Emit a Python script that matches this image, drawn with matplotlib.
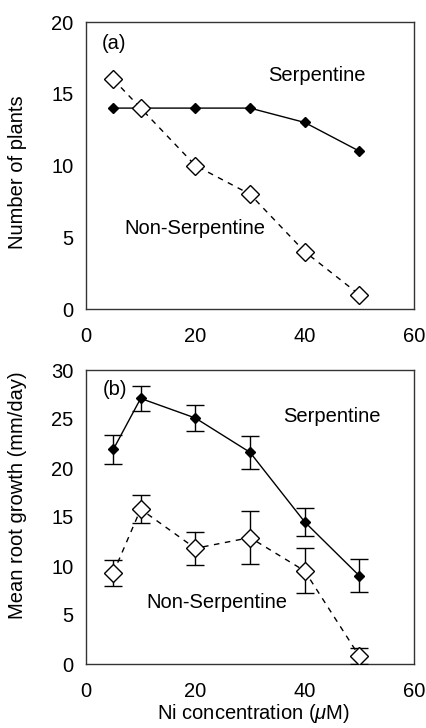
import matplotlib
matplotlib.use("Agg")
import matplotlib.pyplot as plt

plt.rcParams['font.family'] = ['Liberation Sans', 'DejaVu Sans']
plt.rcParams['mathtext.fontset'] = 'custom'
plt.rcParams['mathtext.it'] = 'Liberation Sans:italic'
plt.rcParams['mathtext.rm'] = 'Liberation Sans'

# Data
ni = [5, 10, 20, 30, 40, 50]
plants_serp = [14, 14, 14, 14, 13, 11]
plants_nonserp = [16, 14, 10, 8, 4, 1]

growth_serp = [21.9, 27.1, 25.1, 21.6, 14.5, 9.0]
growth_serp_err = [1.5, 1.3, 1.35, 1.7, 1.45, 1.7]
growth_nonserp = [9.3, 15.8, 11.8, 12.9, 9.5, 0.8]
growth_nonserp_err = [1.35, 1.45, 1.65, 2.7, 2.3, 0.8]

xticks = [0, 20, 40, 60]

W, H = 427, 728
fig = plt.figure(figsize=(W / 100, H / 100), dpi=100)
ax1 = fig.add_axes([86 / W, 1 - 309 / H, 328 / W, 287 / H])
ax2 = fig.add_axes([86 / W, 1 - 664 / H, 328 / W, 294 / H])

fs = 14.5

def style(ax):
    for s in ax.spines.values():
        s.set_color('#333333')
        s.set_linewidth(1.0)
    ax.tick_params(axis='x', length=0, labelsize=fs, pad=13)
    ax.tick_params(axis='y', length=0, labelsize=fs, pad=9)
    ax.set_xlim(0, 60)
    ax.set_xticks(xticks)

# Panel (a)
ax1.plot(ni, plants_serp, '-', color='black', lw=1.0, marker='D', ms=5,
         mfc='black', mec='black', zorder=3)
ax1.plot(ni, plants_nonserp, '--', color='black', lw=1.0, marker='D', ms=9,
         mfc='white', mec='black', mew=1.0, dashes=(4, 4), zorder=4)
ax1.set_ylim(0, 20)
ax1.set_yticks([0, 5, 10, 15, 20])
style(ax1)
fig.text(18 / W, 1 - 172 / H, 'Number of plants', fontsize=fs,
         rotation=90, ha='center', va='center')
ax1.text(2.9, 18.5, '(a)', fontsize=fs, ha='left', va='center')
ax1.text(42.3, 16.3, 'Serpentine', fontsize=fs, ha='center', va='center')
ax1.text(19.9, 5.6, 'Non-Serpentine', fontsize=fs, ha='center', va='center')

# Panel (b)
ax2.errorbar(ni, growth_serp, yerr=growth_serp_err, fmt='-', color='black',
             lw=1.0, marker='D', ms=5, mfc='black', mec='black',
             capsize=6.5, elinewidth=1.0, capthick=1.0, zorder=3)
ax2.errorbar(ni, growth_nonserp, yerr=growth_nonserp_err, fmt='--',
             color='black', lw=1.0, marker='D', ms=9, mfc='white',
             mec='black', mew=1.0, dashes=(4, 4), capsize=6.5,
             elinewidth=1.0, capthick=1.0, zorder=4)
ax2.set_ylim(0, 30)
ax2.set_yticks([0, 5, 10, 15, 20, 25, 30])
style(ax2)
fig.text(18 / W, 1 - 495 / H, 'Mean root growth (mm/day)', fontsize=fs,
         rotation=90, ha='center', va='center')
fig.text(253 / W, 1 - 725 / H, r'Ni concentration ($\mu$M)', fontsize=fs,
         ha='center', va='bottom')
ax2.text(3.1, 28.0, '(b)', fontsize=fs, ha='left', va='center')
ax2.text(45.0, 25.3, 'Serpentine', fontsize=fs, ha='center', va='center')
ax2.text(23.9, 6.3, 'Non-Serpentine', fontsize=fs, ha='center', va='center')

fig.savefig('out.png', dpi=100)
